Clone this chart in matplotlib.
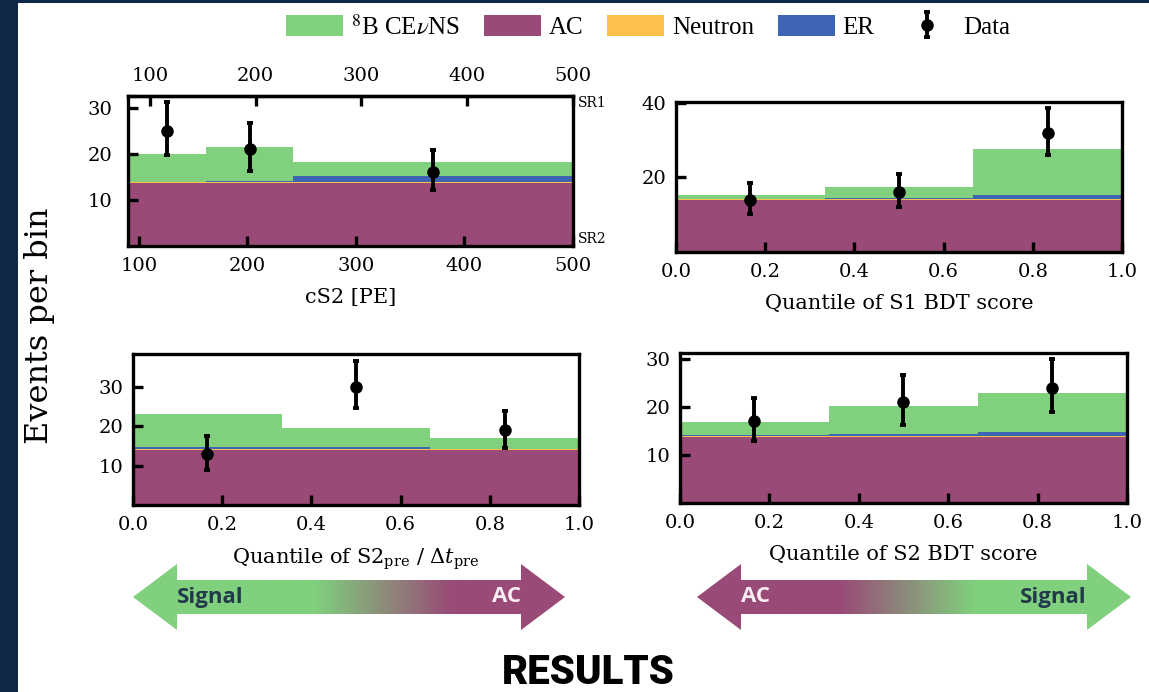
import matplotlib.pyplot as plt
from matplotlib.patches import Patch, Polygon, Rectangle
from matplotlib.colors import LinearSegmentedColormap
from matplotlib.font_manager import FontProperties
import numpy as np

plt.rcParams['font.family'] = 'DejaVu Serif'
plt.rcParams['mathtext.fontset'] = 'dejavuserif'

C_CEVNS = '#80d07e'
C_AC = '#994a77'
C_NEUTRON = '#fdc04c'
C_ER = '#3e65b4'
NAVY = '#0f2846'

# cS2 panel (bottom axis SR2, top axis SR1)
cs2_edges = [90, 162, 242, 500]
cs2_ac = [13.6, 13.6, 13.6]
cs2_neutron = [0.3, 0.3, 0.35]
cs2_er = [0.1, 0.3, 1.25]
cs2_cevns = [6.0, 7.3, 3.05]
cs2_data = [25, 21, 16]
cs2_lo = [19.8, 16.3, 12.2]
cs2_hi = [31.2, 26.7, 20.8]

q_edges = [0, 1 / 3, 2 / 3, 1]

# S1 BDT quantile
s1_ac = [13.9, 14.0, 13.9]
s1_neutron = [0.2, 0.2, 0.3]
s1_er = [0.1, 0.2, 1.2]
s1_cevns = [1.0, 3.1, 12.3]
s1_data = [14, 16, 32]
s1_lo = [10.1, 12.1, 26.0]
s1_hi = [18.4, 20.8, 38.5]

# S2_pre / dt_pre quantile
pre_ac = [14.0, 14.0, 14.0]
pre_neutron = [0.2, 0.2, 0.2]
pre_er = [0.5, 0.4, 0.1]
pre_cevns = [8.5, 5.0, 2.8]
pre_data = [13, 30, 19]
pre_lo = [9.0, 24.5, 14.5]
pre_hi = [17.5, 36.6, 23.9]

# S2 BDT quantile
s2_ac = [13.7, 13.7, 13.7]
s2_neutron = [0.3, 0.3, 0.2]
s2_er = [0.1, 0.4, 0.8]
s2_cevns = [2.7, 5.8, 8.1]
s2_data = [17, 21, 24]
s2_lo = [12.8, 16.3, 19.0]
s2_hi = [21.8, 26.7, 29.9]

quantile_ticks = [0.0, 0.2, 0.4, 0.6, 0.8, 1.0]
cs2_ticks = [100, 200, 300, 400, 500]

W, H = 1149, 692
fig = plt.figure(figsize=(W / 100, H / 100), dpi=100)

# background: navy frame, arrows
bg = fig.add_axes([0, 0, 1, 1], zorder=-1)
bg.set_xlim(0, W)
bg.set_ylim(H, 0)
bg.axis('off')
bg.add_patch(Rectangle((0, 0), 18, H, color=NAVY, lw=0))
bg.add_patch(Rectangle((0, 0), W, 3, color=NAVY, lw=0))


def double_arrow(x0, x1, yc, stops, left_txt, right_txt, left_col, right_col):
    hl, hh, bh = 44, 33, 17
    pts = [(x0, yc), (x0 + hl, yc - hh), (x0 + hl, yc - bh), (x1 - hl, yc - bh),
           (x1 - hl, yc - hh), (x1, yc), (x1 - hl, yc + hh), (x1 - hl, yc + bh),
           (x0 + hl, yc + bh), (x0 + hl, yc + hh)]
    poly = Polygon(pts, closed=True, facecolor='none', edgecolor='none')
    bg.add_patch(poly)
    cmap = LinearSegmentedColormap.from_list('grad', stops)
    im = bg.imshow(np.linspace(0, 1, 512)[None, :], cmap=cmap, aspect='auto',
                   extent=(x0, x1, yc + hh, yc - hh), interpolation='bilinear')
    im.set_clip_path(poly)
    bg.text(x0 + hl, yc, left_txt, ha='left', va='center', fontsize=16,
            family='Open Sans', fontweight='bold', color=left_col)
    bg.text(x1 - hl, yc, right_txt, ha='right', va='center', fontsize=16,
            family='Open Sans', fontweight='bold', color=right_col)


double_arrow(133, 565, 597, [(0, C_CEVNS), (0.42, C_CEVNS), (0.74, C_AC), (1, C_AC)],
             'Signal', 'AC', '#22394a', '#f6eef2')
double_arrow(697, 1131, 597, [(0, C_AC), (0.33, C_AC), (0.64, C_CEVNS), (1, C_CEVNS)],
             'AC', 'Signal', '#f6eef2', '#22394a')

bg.text(588, 672, 'RESULTS', ha='center', va='center', fontsize=29,
        family='Roboto', fontweight='heavy', color='black')


def draw_panel(rect, edges, ac, neutron, er, cevns, data, lo, hi, ylim, yticks,
               xticks, xlabel, ypad=7):
    ax = fig.add_axes(rect)
    edges = np.asarray(edges, float)
    base = np.zeros(len(ac))
    for vals, col in [(ac, C_AC), (neutron, C_NEUTRON), (er, C_ER), (cevns, C_CEVNS)]:
        top = base + np.asarray(vals)
        ax.stairs(top, edges, baseline=base, fill=True, color=col, lw=0)
        base = top
    centers = 0.5 * (edges[1:] + edges[:-1])
    data = np.asarray(data, float)
    eb = ax.errorbar(centers, data, yerr=[data - np.asarray(lo), np.asarray(hi) - data],
                     fmt='o', color='k', ms=8, elinewidth=2.8, capsize=2.5,
                     capthick=2.8, zorder=5, label='Data')
    ax.set_xlim(edges[0], edges[-1])
    ax.set_ylim(*ylim)
    ax.set_yticks(yticks)
    ax.set_xticks(xticks)
    ax.tick_params(direction='in', length=7, width=2.4, labelsize=14, pad=8)
    ax.tick_params(axis='y', pad=ypad)
    for s in ax.spines.values():
        s.set_linewidth(2.4)
    ax.set_xlabel(xlabel, fontsize=15, labelpad=9)
    return ax, eb


ax1, eb = draw_panel([0.1114, 0.6445, 0.3873, 0.2168], cs2_edges, cs2_ac, cs2_neutron,
                     cs2_er, cs2_cevns, cs2_data, cs2_lo, cs2_hi, (0, 32.6), [10, 20, 30],
                     cs2_ticks, 'cS2 [PE]', ypad=11)
sec = ax1.secondary_xaxis('top', functions=(lambda x: (x - 12.5) / 0.975,
                                            lambda t: 12.5 + 0.975 * t))
sec.set_xticks(cs2_ticks)
sec.tick_params(direction='in', length=7, width=2.4, labelsize=14, pad=8)
sec.spines['top'].set_linewidth(2.4)
ax1.text(1.01, 1.0, 'SR1', transform=ax1.transAxes, ha='left', va='top', fontsize=10)
ax1.text(1.01, 0.0, 'SR2', transform=ax1.transAxes, ha='left', va='bottom', fontsize=10)

draw_panel([0.5883, 0.6358, 0.3882, 0.2168], q_edges, s1_ac, s1_neutron, s1_er, s1_cevns,
           s1_data, s1_lo, s1_hi, (0, 40.2), [20, 40], quantile_ticks,
           'Quantile of S1 BDT score')
draw_panel([0.1158, 0.2702, 0.3882, 0.2182], q_edges, pre_ac, pre_neutron, pre_er,
           pre_cevns, pre_data, pre_lo, pre_hi, (0, 38.3), [10, 20, 30], quantile_ticks,
           r'Quantile of S2$_{\rm pre}$ / $\Delta t_{\rm pre}$')
draw_panel([0.5918, 0.2731, 0.3890, 0.2168], q_edges, s2_ac, s2_neutron, s2_er, s2_cevns,
           s2_data, s2_lo, s2_hi, (0, 31.2), [10, 20, 30], quantile_ticks,
           'Quantile of S2 BDT score')

fig.text(40 / W, 1 - 326 / H, 'Events per bin', rotation=90, ha='center', va='center',
         fontsize=23)

handles = [Patch(facecolor=C_CEVNS, label=r'$^{8}$B CE$\nu$NS'),
           Patch(facecolor=C_AC, label='AC'),
           Patch(facecolor=C_NEUTRON, label='Neutron'),
           Patch(facecolor=C_ER, label='ER'),
           eb]
fig.legend(handles=handles, loc='center', bbox_to_anchor=(648 / W, 1 - 27 / H), ncol=5,
           frameon=False, handlelength=2.3, handleheight=0.9, handletextpad=0.3,
           columnspacing=0.95,
           prop=FontProperties(family='Liberation Serif', size=18, math_fontfamily='stix'))

fig.savefig('out.png', dpi=100)
